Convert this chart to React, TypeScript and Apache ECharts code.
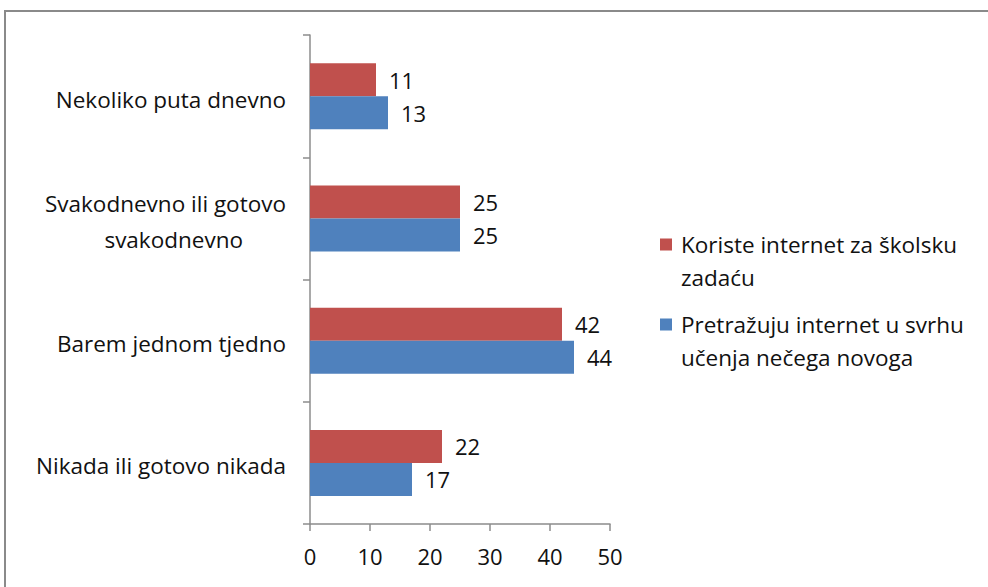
import React, { useEffect, useRef } from "react";
import * as echarts from "echarts";

const categories = [
  "Nekoliko puta dnevno",
  "Svakodnevno ili gotovo\nsvakodnevno",
  "Barem jednom tjedno",
  "Nikada ili gotovo nikada",
];
const seriesNames = [
  "Koriste internet za školsku zadaću",
  "Pretražuju internet u svrhu učenja nečega novoga",
];
const legendLabels = [
  "Koriste internet za školsku\nzadaću",
  "Pretražuju internet u svrhu\nučenja nečega novoga",
];
const homework = [11, 25, 42, 22];
const learning = [13, 25, 44, 17];
const xTicks = [0, 10, 20, 30, 40, 50];

const FONT = "'Open Sans', 'Noto Sans', sans-serif";
const FS = 22.5;
// square at the top of a taller box so it lines up with the first text line
const LEGEND_ICON = "path://M0,0L12,0L12,12L0,12Z M0,44.95L0.01,44.95L0.01,45L0,45Z";

export default function App() {
  const ref = useRef<HTMLDivElement>(null);
  useEffect(() => {
    const chart = echarts.init(ref.current!, null, { renderer: "svg" });
    const labelStyle = {
      show: true,
      position: "right" as const,
      distance: 13,
      color: "#111",
      fontSize: 22,
      fontFamily: FONT,
    };
    chart.setOption({
      animation: false,
      backgroundColor: "#fff",
      textStyle: { fontFamily: FONT },
      graphic: [
        {
          type: "rect",
          shape: { x: 5, y: 11, width: 1100, height: 700 },
          style: { fill: "none", stroke: "#8a8a8a", lineWidth: 2 },
          silent: true,
        },
      ],
      grid: { left: 310, top: 35, width: 300, height: 489, containLabel: false },
      legend: {
        orient: "vertical",
        left: 655,
        top: 223,
        itemWidth: 12,
        itemHeight: 45,
        itemGap: 14,
        icon: LEGEND_ICON,
        data: seriesNames.map((n) => ({ name: n, icon: LEGEND_ICON })),
        formatter: (name: string) => legendLabels[seriesNames.indexOf(name)],
        textStyle: {
          fontSize: FS,
          color: "#111",
          lineHeight: 33,
          fontFamily: FONT,
          padding: [0, 0, 0, 4],
        },
      },
      xAxis: {
        type: "value",
        min: xTicks[0],
        max: xTicks[xTicks.length - 1],
        interval: 10,
        splitLine: { show: false },
        axisLine: { show: true, lineStyle: { color: "#8c8c8c", width: 1.5 } },
        axisTick: { show: true, length: 7, lineStyle: { color: "#8c8c8c", width: 1.5 } },
        axisLabel: { fontSize: 22, color: "#111", margin: 21, fontFamily: FONT },
      },
      yAxis: {
        type: "category",
        inverse: true,
        data: categories,
        axisLine: { show: true, lineStyle: { color: "#8c8c8c", width: 1.5 } },
        axisTick: { show: true, length: 7, lineStyle: { color: "#8c8c8c", width: 1.5 } },
        axisLabel: {
          fontSize: FS,
          color: "#111",
          margin: 24,
          fontFamily: FONT,
          padding: [6, 0, 0, 0],
          formatter: (v: string) => {
            const parts = v.split("\n");
            if (parts.length === 1) return "{a|" + v + "}";
            return "{a|" + parts[0] + "}\n{b|" + parts[1] + "}";
          },
          rich: {
            a: { fontSize: FS, color: "#111", lineHeight: 36, fontFamily: FONT },
            b: {
              fontSize: FS,
              color: "#111",
              lineHeight: 36,
              fontFamily: FONT,
              padding: [0, 43, 0, 0],
            },
          },
        },
      },
      series: [
        {
          name: seriesNames[0],
          type: "bar",
          data: homework,
          barWidth: 33,
          barGap: "0%",
          itemStyle: { color: "#C0504D" },
          label: labelStyle,
        },
        {
          name: seriesNames[1],
          type: "bar",
          data: learning,
          barWidth: 33,
          barGap: "0%",
          itemStyle: { color: "#4F81BD" },
          label: labelStyle,
        },
      ],
    });
    return () => chart.dispose();
  }, []);
  return (
    <div
      ref={ref}
      style={{ position: "fixed", left: 0, top: 0, width: 988, height: 587 }}
    />
  );
}
